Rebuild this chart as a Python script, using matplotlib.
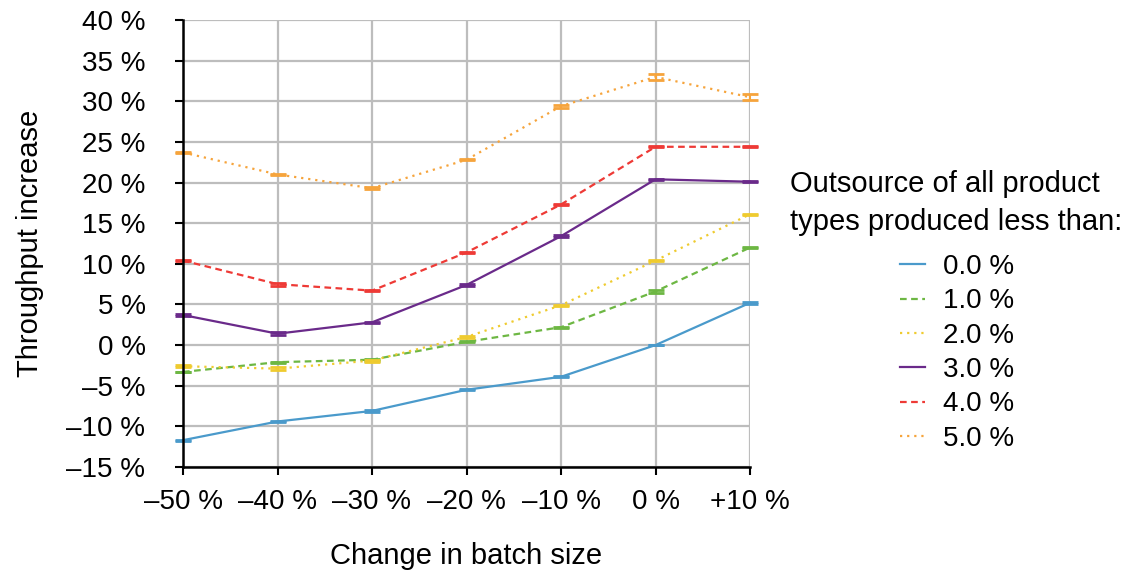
import matplotlib
matplotlib.use("Agg")
import matplotlib.pyplot as plt
from matplotlib.lines import Line2D

plt.rcParams['font.family'] = ['Liberation Sans', 'DejaVu Sans']

batch_change = [-50, -40, -30, -20, -10, 0, 10]
x_labels = ['–50 %', '–40 %', '–30 %', '–20 %', '–10 %', '0 %', '+10 %']
y_ticks = [-15, -10, -5, 0, 5, 10, 15, 20, 25, 30, 35, 40]
y_labels = ['–15 %', '–10 %', '–5 %', '0 %', '5 %', '10 %', '15 %', '20 %', '25 %', '30 %', '35 %', '40 %']

series_names = ['0.0 %', '1.0 %', '2.0 %', '3.0 %', '4.0 %', '5.0 %']
s0 = [-11.7, -9.4, -8.1, -5.5, -3.9, 0.0, 5.2]
s1 = [-3.3, -2.1, -1.8, 0.4, 2.2, 6.6, 12.0]
s2 = [-2.6, -2.9, -1.9, 1.0, 4.9, 10.4, 16.1]
s3 = [3.7, 1.4, 2.8, 7.4, 13.4, 20.4, 20.1]
s4 = [10.4, 7.5, 6.7, 11.4, 17.3, 24.4, 24.4]
s5 = [23.7, 21.0, 19.3, 22.8, 29.4, 33.0, 30.5]
e0 = [0.05, 0.1, 0.12, 0.05, 0.05, 0.05, 0.1]
e1 = [0.05, 0.05, 0.12, 0.05, 0.05, 0.15, 0.1]
e2 = [0.15, 0.15, 0.12, 0.12, 0.05, 0.05, 0.05]
e3 = [0.08, 0.15, 0.08, 0.08, 0.15, 0.05, 0.05]
e4 = [0.05, 0.2, 0.05, 0.05, 0.05, 0.05, 0.05]
e5 = [0.05, 0.05, 0.15, 0.05, 0.2, 0.35, 0.35]

values = [s0, s1, s2, s3, s4, s5]
errors = [e0, e1, e2, e3, e4, e5]
colors = ['#4A9ACB', '#6DB743', '#EFCB2F', '#6A2A8A', '#EE3A36', '#F6A43C']
styles = ['-', (0, (3, 2)), (0, (1, 2.2)), '-', (0, (3, 2)), (0, (1, 2.2))]

fig = plt.figure(figsize=(11.35, 5.72), dpi=100)
ax = fig.add_axes([183/1135, 1-467/572, (750-183)/1135, (467-20)/572])

for v, e, c, ls in zip(values, errors, colors, styles):
    ax.plot(batch_change, v, color=c, linestyle=ls, linewidth=1.6, zorder=3, clip_on=False)
    eb = ax.errorbar(batch_change, v, yerr=e, fmt='none', ecolor=c, elinewidth=1.5,
                     capsize=5.5, capthick=2.0, zorder=4)
    for art in eb.lines[1]:
        art.set_clip_on(False)
    for art in eb.lines[2]:
        art.set_clip_on(False)

ax.set_xlim(-50, 10)
ax.set_ylim(-15, 40)
ax.set_xticks(batch_change)
ax.set_xticklabels(x_labels, fontsize=20)
ax.set_yticks(y_ticks)
ax.set_yticklabels(y_labels, fontsize=20)
ax.grid(True, color='#BDBDBD', linewidth=1.6, zorder=0)
ax.set_axisbelow(True)
for s in ['top', 'right']:
    ax.spines[s].set_visible(False)
for s in ['left', 'bottom']:
    ax.spines[s].set_linewidth(1.8)
    ax.spines[s].set_zorder(5)
ax.tick_params(axis='both', direction='out', length=6, width=1.5)
ax.tick_params(axis='y', pad=21)
ax.tick_params(axis='x', pad=10)
ax.set_xlabel('Change in batch size', fontsize=21, labelpad=19)
ax.set_ylabel('Throughput increase', fontsize=21, labelpad=16)

fig.text(790/1135, 1-203/572, 'Outsource of all product\ntypes produced less than:',
         fontsize=21, ha='left', va='center', linespacing=1.42)
handles = [Line2D([0], [0], color=c, linestyle=ls, linewidth=1.6) for c, ls in zip(colors, styles)]
fig.legend(handles, series_names, loc='upper left', bbox_to_anchor=(886/1135, 1-240/572),
           frameon=False, fontsize=20, handlelength=0.9, handletextpad=0.65,
           labelspacing=0.3, borderpad=0)

fig.savefig('out.png', dpi=100)
